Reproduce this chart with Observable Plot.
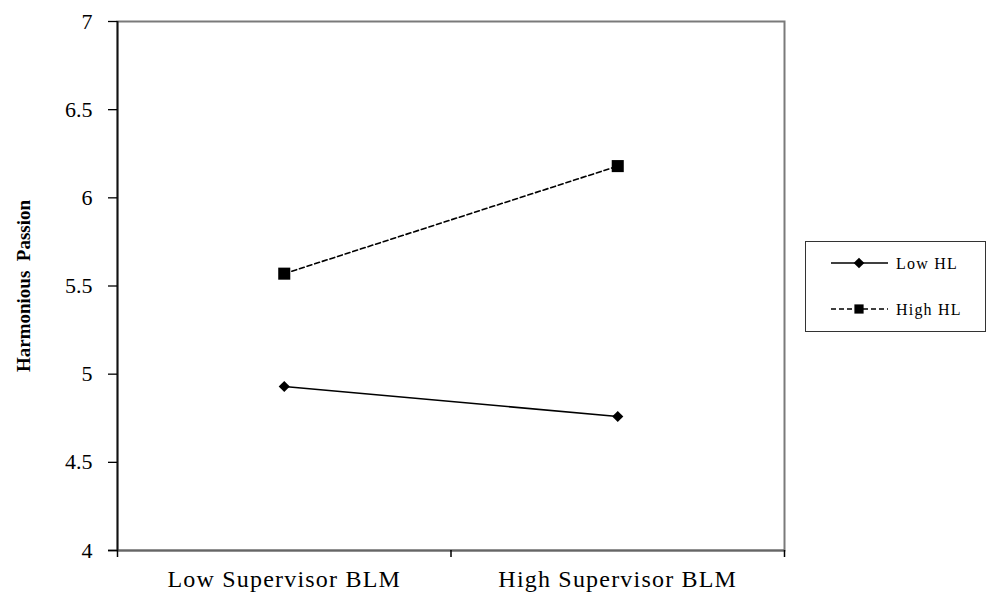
<!DOCTYPE html>
<html>
<head>
<meta charset="utf-8">
<script src="https://cdn.jsdelivr.net/npm/d3@7"></script>
<script src="https://cdn.jsdelivr.net/npm/@observablehq/plot@0.6"></script>
<style>
  html, body { margin: 0; padding: 0; background: #fff; }
  #wrap { position: relative; width: 990px; height: 594px; font-family: "Liberation Serif", "Times New Roman", serif; }
  #wrap svg, #wrap svg text { font-family: "Liberation Serif", "Times New Roman", serif !important; }
  #wrap g[aria-label="x-axis tick label"] text { letter-spacing: 1.2px; }
  #legend { position: absolute; left: 805px; top: 241px; width: 179px; height: 89px; border: 1.5px solid #333; background: #fff; }
</style>
</head>
<body>
<div id="wrap"></div>
<script>
const categories = ["Low Supervisor BLM", "High Supervisor BLM"];
const seriesNames = ["Low HL", "High HL"];
const lowHL = [4.93, 4.76];
const highHL = [5.57, 6.18];
const yTicks = [4, 4.5, 5, 5.5, 6, 6.5, 7];
const yLabel = "Harmonious  Passion";

const lowData = categories.map((c, i) => ({cat: c, pos: i + 0.5, value: lowHL[i], series: seriesNames[0]}));
const highData = categories.map((c, i) => ({cat: c, pos: i + 0.5, value: highHL[i], series: seriesNames[1]}));
const boundaries = d3.range(categories.length + 1);
const centers = categories.map((c, i) => i + 0.5);

const fontFamily = '"Liberation Serif", "Times New Roman", serif';

const chart = Plot.plot({
  width: 990,
  height: 594,
  marginLeft: 117,
  marginRight: 206,
  marginTop: 21,
  marginBottom: 44,
  style: {fontFamily, background: "#fff", color: "#000"},
  x: {domain: [0, categories.length], axis: null},
  y: {domain: [4, 7], axis: null},
  marks: [
    Plot.frame({stroke: "#7a7a7a", strokeWidth: 2}),
    Plot.ruleY([4], {stroke: "#666", strokeWidth: 2, x1: -0.027, x2: 2}),
    Plot.axisX({ticks: boundaries, tickFormat: () => "", tickSize: 7, label: null, strokeWidth: 1.5}),
    Plot.axisX({ticks: centers, tickFormat: d => categories[Math.floor(d)], tickSize: 0, tickPadding: 19, fontSize: 24, fontFamily, label: null}),
    Plot.ruleX([0], {stroke: "#111", strokeWidth: 1.8}),
    Plot.axisY({ticks: yTicks, tickSize: 9, tickPadding: 16, fontSize: 22, fontFamily, label: null, tickFormat: d => String(d), strokeWidth: 1.3}),
    Plot.text([yLabel], {frameAnchor: "left", dx: -94, rotate: -90, textAnchor: "middle", fontWeight: "bold", fontSize: 19, fontFamily, fill: "#000"}),
    Plot.line(lowData, {x: "pos", y: "value", stroke: "#000", strokeWidth: 1.6}),
    Plot.line(highData, {x: "pos", y: "value", stroke: "#000", strokeWidth: 1.6, strokeDasharray: "5,3"}),
    Plot.dot(lowData, {x: "pos", y: "value", symbol: "diamond2", r: 5, fill: "#000", stroke: "none"}),
    Plot.dot(highData, {x: "pos", y: "value", symbol: "square", r: 6.8, fill: "#000", stroke: "none"})
  ]
});

const wrap = document.getElementById("wrap");
wrap.appendChild(chart);

// legend
const legend = document.createElement("div");
legend.id = "legend";
wrap.appendChild(legend);
const lsvg = d3.select(legend).append("svg").attr("width", 179).attr("height", 89).style("display", "block");
const items = [
  {name: seriesNames[0], dash: null, symbol: d3.symbolDiamond2, size: 4.8 * 4.8 * Math.PI, y: 21},
  {name: seriesNames[1], dash: "5,3", symbol: d3.symbolSquare, size: 5.2 * 5.2 * Math.PI, y: 67}
];
items.forEach(it => {
  const g = lsvg.append("g");
  g.append("line").attr("x1", 25).attr("x2", 82).attr("y1", it.y).attr("y2", it.y)
    .attr("stroke", "#000").attr("stroke-width", 1.6).attr("stroke-dasharray", it.dash);
  g.append("path").attr("d", d3.symbol(it.symbol, it.size)()).attr("transform", `translate(53,${it.y})`).attr("fill", "#000");
  g.append("text").attr("x", 90).attr("y", it.y).attr("dy", "0.35em")
    .attr("font-family", fontFamily).attr("font-size", 16).attr("letter-spacing", "1.2px").text(it.name);
});
</script>
</body>
</html>
